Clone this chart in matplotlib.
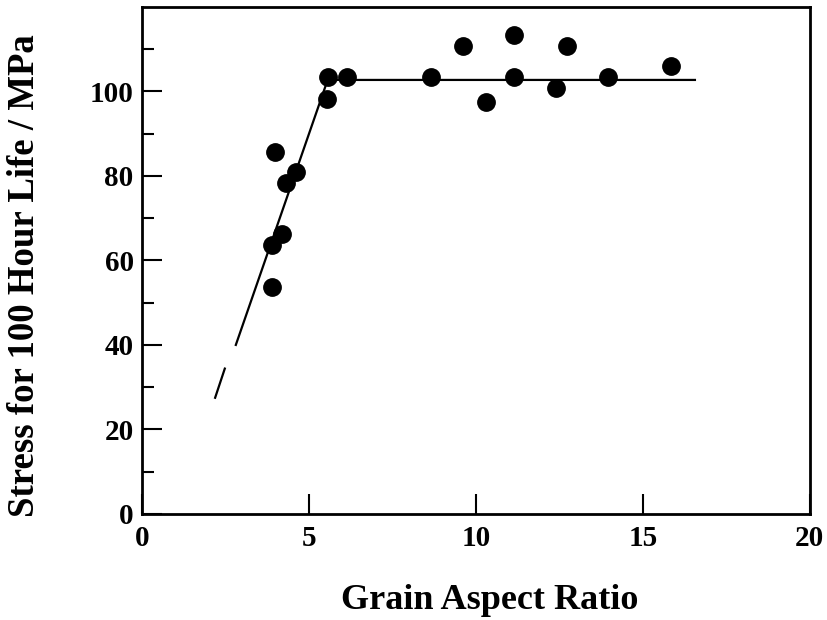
import matplotlib
matplotlib.use('Agg')
import matplotlib.pyplot as plt
import numpy as np

# 字体: Times 风格粗体
matplotlib.rcParams['font.family'] = 'Liberation Serif'
matplotlib.rcParams['font.weight'] = 'bold'

# 数据点 (grain aspect ratio, stress)
aspect = [3.98, 4.60, 4.30, 4.20, 3.88, 3.89, 5.56, 6.15, 5.53,
          8.65, 9.60, 10.30, 11.15, 11.15, 12.39, 12.72, 13.96, 15.83]
stress = [85.6, 80.9, 78.3, 66.2, 63.7, 53.7, 103.4, 103.4, 98.2,
          103.3, 110.8, 97.4, 113.4, 103.3, 100.9, 110.8, 103.3, 106.0]

# 拟合线 (两段: 实线 + 外推短线)
fit_x = [2.81, 5.56, 16.56]
fit_y = [40.0, 102.7, 102.7]
ext_x = [2.19, 2.48]
ext_y = [27.5, 34.4]

fig = plt.figure(figsize=(8.28, 6.2), dpi=100)
ax = fig.add_axes([0.1715, 0.171, 0.8065, 0.818])

ax.plot(fit_x, fit_y, color='k', linewidth=1.6)
ax.plot(ext_x, ext_y, color='k', linewidth=1.6)
ax.plot(aspect, stress, 'o', color='k', markersize=12.5, linestyle='none')

ax.set_xlim(0, 20)
ax.set_ylim(0, 120)
ax.set_xticks([0, 5, 10, 15, 20])
ax.set_yticks([0, 20, 40, 60, 80, 100])
ax.set_yticks([10, 30, 50, 70, 90, 110], minor=True)

ax.tick_params(axis='both', which='major', direction='in', length=14.5, width=1.5, labelsize=21)
ax.tick_params(axis='y', which='minor', direction='in', length=8.5, width=1.5)
ax.tick_params(axis='x', which='major', pad=8)
ax.tick_params(axis='y', which='major', pad=6)

for s in ax.spines.values():
    s.set_linewidth(2)

ax.set_xlabel('Grain Aspect Ratio', fontsize=26, fontweight='bold', labelpad=23)
ax.xaxis.label.set_x(0.521)
ax.set_ylabel('Stress for 100 Hour Life / MPa', fontsize=26.5, fontweight='bold')
ax.yaxis.set_label_coords(-0.15, 0.47)

fig.savefig('out.png', dpi=100)
